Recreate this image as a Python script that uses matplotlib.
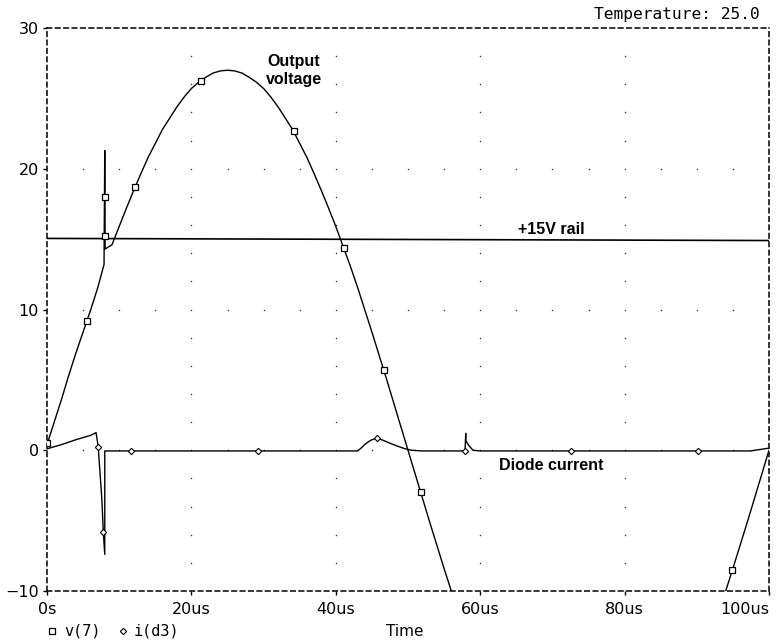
import numpy as np
import matplotlib
matplotlib.use("Agg")
import matplotlib.pyplot as plt

# v(7) output voltage (time in us, volts)
v_time = [0, 1, 2, 3, 4, 5, 6, 7, 7.9, 8.0, 8.05, 9, 10, 11, 12, 13, 14, 15, 16, 17, 18,
          19, 20, 21, 22, 23, 24, 25, 26, 27, 28, 29, 30, 31, 32, 33, 34, 35, 36, 37, 38,
          39, 40, 41, 42, 43, 44, 45, 46, 47, 48, 49, 50, 51, 52, 53, 54, 55, 56, 57,
          93, 94, 95, 96, 97, 98, 99, 100]
v_out = [0.4, 2.0, 3.6, 5.3, 6.9, 8.4, 9.9, 11.5, 13.2, 21.3, 14.3, 14.6, 15.9, 17.2, 18.45,
         19.65, 20.8, 21.8, 22.8, 23.6, 24.4, 25.1, 25.7, 26.15, 26.5, 26.8, 26.95, 27.0, 26.95,
         26.8, 26.5, 26.15, 25.7, 25.1, 24.4, 23.6, 22.8, 21.8, 20.8, 19.65, 18.45, 17.2, 15.9,
         14.5, 13.1, 11.6, 10.0, 8.4, 6.75, 5.1, 3.4, 1.7, 0.0, -1.7, -3.4, -5.1, -6.75, -8.4,
         -10.0, -11.5,
         -11.5, -10.0, -8.4, -6.75, -5.1, -3.4, -1.7, 0.0]
v_mark_t = [0, 5.5, 8.0, 8.0, 12.2, 21.3, 34.2, 41.1, 46.7, 51.8, 94.9]
v_mark_v = [0.5, 9.2, 18.0, 15.2, 18.7, 26.2, 22.7, 14.4, 5.7, -3.0, -8.5]

# i(d3) diode current
i_time = [0, 1, 2, 3, 4, 5, 6, 6.8, 7.1, 7.6, 7.8, 8.0, 8.0, 12, 20, 30, 40, 43, 43.5, 44,
          44.5, 45, 45.7, 46.5, 47.5, 48.5, 49.5, 50.5, 52, 57.9, 58.0, 58.0, 58.4, 59.0,
          60, 70, 80, 90, 97.4, 100]
i_d3 = [0.1, 0.25, 0.4, 0.57, 0.75, 0.9, 1.05, 1.25, 0.2, -3.5, -5.8, -7.4, -0.05, -0.05,
        -0.05, -0.05, -0.05, -0.05, 0.15, 0.4, 0.6, 0.75, 0.85, 0.72, 0.5, 0.3, 0.12, 0.0,
        -0.05, -0.05, 1.2, 0.7, 0.35, 0.0, -0.05, -0.05, -0.05, -0.05, -0.05, 0.15]
i_mark_t = [7.1, 7.8, 11.7, 29.2, 45.7, 57.9, 72.6, 90.2]
i_mark_v = [0.2, -5.8, -0.05, -0.05, 0.85, -0.05, -0.05, -0.05]

# +15V rail
rail_t = [0, 100]
rail_v = [15.05, 14.9]

x_ticks = [0, 20, 40, 60, 80, 100]
x_labels = ["0s", "20us", "40us", "60us", "80us", "100us"]
y_ticks = [-10, 0, 10, 20, 30]

W, H = 776, 640
fig = plt.figure(figsize=(W / 100, H / 100), dpi=100)
ax = fig.add_axes([47 / W, 1 - 591 / H, (769 - 47) / W, (591 - 28) / H])
ax.set_xlim(0, 100)
ax.set_ylim(-10, 30)

# dotted grid: dots along the major lines
gx, gy = [], []
for yv in [0, 10, 20]:
    for xv in np.arange(5, 100, 5):
        gx.append(xv); gy.append(yv)
for xv in [20, 40, 60, 80]:
    for yv in np.arange(-8, 30, 2):
        if yv % 10:
            gx.append(xv); gy.append(yv)
ax.scatter(gx, gy, s=1.2, color="#333333", linewidths=0, zorder=1)

ax.plot(rail_t, rail_v, color="black", lw=1.2, zorder=2)
ax.plot(v_time, v_out, color="black", lw=1.0, zorder=3)
ax.plot(v_mark_t, v_mark_v, ls="none", marker="s", ms=4.2, mfc="white", mec="black", mew=0.9, zorder=4)
ax.plot(i_time, i_d3, color="black", lw=1.0, zorder=3)
ax.plot(i_mark_t, i_mark_v, ls="none", marker="D", ms=3.2, mfc="white", mec="black", mew=0.8, zorder=4)

for s in ax.spines.values():
    s.set_linestyle((0, (3, 2.5)))
    s.set_linewidth(1.1)

ax.set_xticks(x_ticks)
ax.set_xticklabels(x_labels)
ax.get_xticklabels()[-1].set_horizontalalignment("right")
ax.set_yticks(y_ticks)
ax.tick_params(direction="out", length=3, width=1, labelsize=11.5, pad=5)
ax.tick_params(axis="y", pad=3)

bold = dict(family="Liberation Sans", fontweight="bold", fontsize=11.5, ha="center", va="center")
ax.text(34.2, 27.0, "Output\nvoltage", linespacing=1.25, **bold)
ax.text(69.9, 15.65, "+15V rail", **bold)
ax.text(69.9, -1.1, "Diode current", **bold)

fig.text(760 / W, 1 - 15 / H, "Temperature: 25.0", ha="right", va="center",
         family="DejaVu Sans Mono", fontsize=11.7)
fig.text(405 / W, 1 - 631 / H, "Time", ha="center", va="center", fontsize=11)

# legend row under the axis
fig.lines.append(plt.Line2D([52 / W], [1 - 631 / H], transform=fig.transFigure, ls="none",
                            marker="s", ms=4.2, mfc="white", mec="black", mew=0.9))
fig.text(64 / W, 1 - 631 / H, "v(7)", ha="left", va="center", family="DejaVu Sans Mono", fontsize=11)
fig.lines.append(plt.Line2D([123 / W], [1 - 631 / H], transform=fig.transFigure, ls="none",
                            marker="D", ms=3.2, mfc="white", mec="black", mew=0.8))
fig.text(134 / W, 1 - 631 / H, "i(d3)", ha="left", va="center", family="DejaVu Sans Mono", fontsize=11)

fig.savefig("out.png", dpi=100)
